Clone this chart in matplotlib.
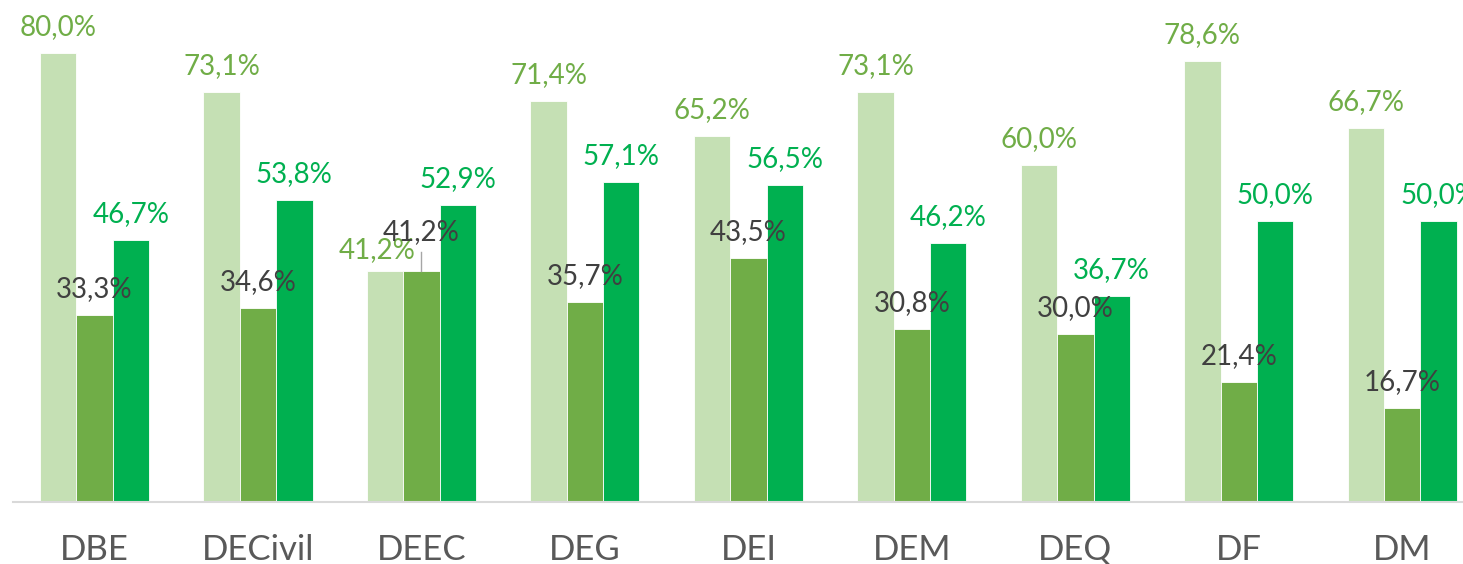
import matplotlib.pyplot as plt
import numpy as np

# departments and the three series (percent)
departments = ['DBE', 'DECivil', 'DEEC', 'DEG', 'DEI', 'DEM', 'DEQ', 'DF', 'DM']
series_a = [80.0, 73.1, 41.2, 71.4, 65.2, 73.1, 60.0, 78.6, 66.7]
series_b = [33.3, 34.6, 41.2, 35.7, 43.5, 30.8, 30.0, 21.4, 16.7]
series_c = [46.7, 53.8, 52.9, 57.1, 56.5, 46.2, 36.7, 50.0, 50.0]

bar_colors = ['#c5e0b4', '#70ad47', '#00b050']
label_colors = ['#70ad47', '#404040', '#00b050']

plt.rcParams['font.family'] = ['Lato', 'DejaVu Sans']

fig = plt.figure(figsize=(14.63, 5.64), dpi=100)
W, H = 1463, 564
# axes spans beyond right edge like the cropped original
ax = fig.add_axes([12.75 / W, 62 / H, (1484 - 12.75) / W, 502 / H])

x = np.arange(len(departments))
w = 0.2225
for i, vals in enumerate([series_a, series_b, series_c]):
    pos = x + (i - 1) * w
    ax.bar(pos, vals, width=w, color=bar_colors[i], edgecolor='white', linewidth=0.6)
    for j, (p, v) in enumerate(zip(pos, vals)):
        txt = f'{v:.1f}%'.replace('.', ',')
        dx, dy = 0, 13
        if departments[j] == 'DEEC' and i == 0:
            dx, dy = -6, 9
        if departments[j] == 'DEEC' and i == 1:
            dx, dy = 0, 22
        ax.annotate(txt, (p, v), xytext=(dx, dy), textcoords='offset points',
                    ha='center', va='baseline', fontsize=20, color=label_colors[i])

# leader line for the displaced DEEC label
k = departments.index('DEEC')
ax.plot([x[k], x[k]], [series_b[k], series_b[k] + 3.4], color='#a6a6a6', lw=1)

ax.set_xlim(-0.5, len(departments) - 0.5)
ax.set_ylim(0, 89.48)
ax.set_xticks(x)
ax.set_xticklabels(departments, fontsize=25, color='#595959')
ax.tick_params(axis='x', length=0, pad=23)
ax.set_yticks([])
for s in ['top', 'right', 'left']:
    ax.spines[s].set_visible(False)
ax.spines['bottom'].set_color('#d9d9d9')
ax.spines['bottom'].set_linewidth(1.5)

fig.savefig('out.png', dpi=100)
